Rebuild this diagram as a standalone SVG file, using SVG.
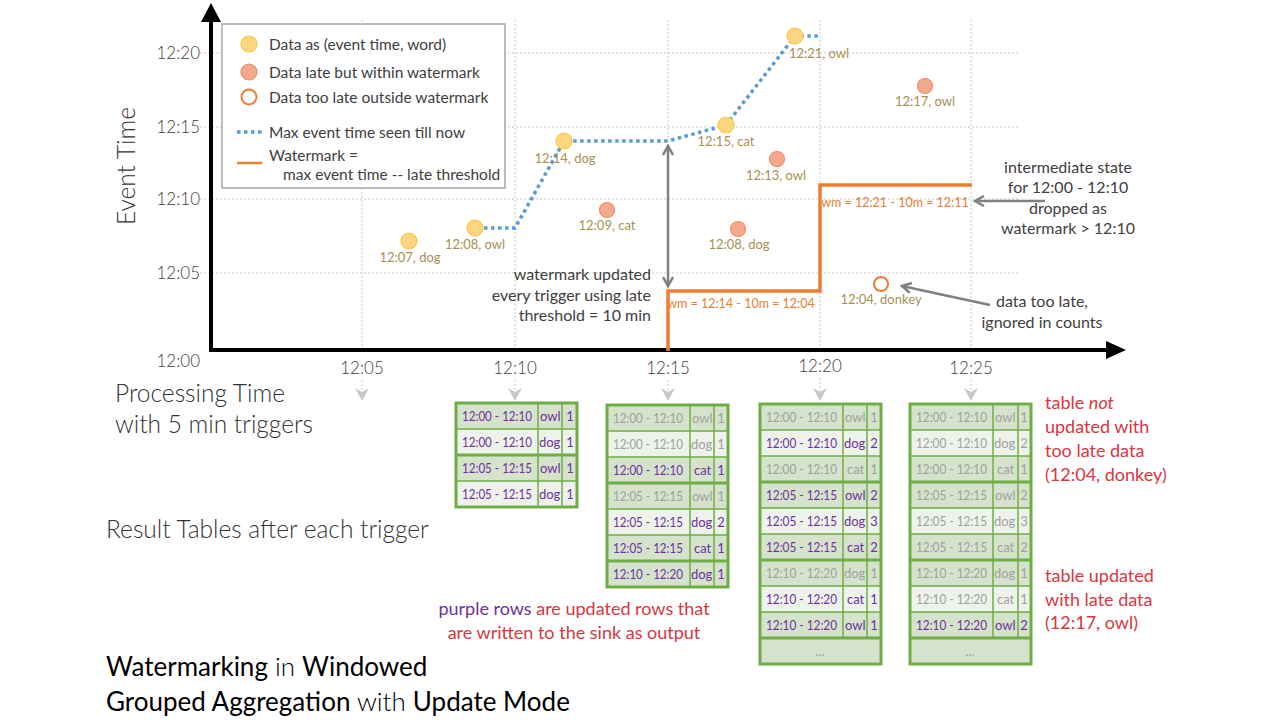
<svg xmlns="http://www.w3.org/2000/svg" width="1280" height="720" viewBox="0 0 1280 720">
<defs>
<style>
text{font-family:Lato,"Open Sans","DejaVu Sans",sans-serif;font-weight:400}
.ax{fill:#404040;font-size:17px;font-weight:300}
.leg{fill:#404040;font-size:15.5px}
.dl{fill:#a98f52;font-size:13px;text-anchor:middle}
.note{fill:#404040;font-size:16px}
.wm{fill:#ed7d31;font-size:12.5px;text-anchor:middle}
.big{fill:#333333;font-size:24.5px;font-weight:300}
.red{fill:#d9363e;font-size:18px}
.ttl{fill:#000;font-size:26px;font-weight:300}
.ttl .b{font-weight:400}
.grid{stroke:#c8c8c8;stroke-width:1;stroke-dasharray:2 2;fill:none}
.yel{fill:#fed57f;stroke:#f9c845;stroke-width:1.2}
.sal{fill:#f4a98c;stroke:#f08c66;stroke-width:1.2}
.cell-d{fill:#d5e3cc}
.cell-l{fill:#edf3ea}
.tl{stroke:#70ad47;stroke-width:1.5;fill:none}
.tt{stroke:#70ad47;stroke-width:3;fill:none}
.p{fill:#7030a0;font-size:13px}
.g{fill:#a0a0a0;font-size:13px}
.c{text-anchor:middle}
.gray{stroke:#808080;stroke-width:2.5;fill:none}
.trig{stroke:#c8c8c8;stroke-width:1;stroke-dasharray:2 2}
</style>
<marker id="chev" viewBox="0 0 12 12" refX="10" refY="6" markerWidth="12" markerHeight="12" markerUnits="userSpaceOnUse" orient="auto-start-reverse">
<path d="M1,1 L10,6 L1,11" fill="none" stroke="#808080" stroke-width="2.5"/>
</marker>
</defs>
<rect width="1280" height="720" fill="#ffffff"/>

<g id="grid">
<path class="grid" d="M362,20V350 M515,20V350 M668,20V350 M820,20V350 M971,20V350"/>
<path class="grid" d="M200,53H1018 M200,127H1018 M200,199H1018 M200,273H1018"/>
</g>

<g id="axes">
<path d="M211,352V20 M209,350H1108" stroke="#000" stroke-width="4" fill="none"/>
<polygon points="211,3 201,22 221,22" fill="#000"/>
<polygon points="1126,350 1106,341 1106,359" fill="#000"/>
<text class="ax" x="200" y="59" text-anchor="end">12:20</text>
<text class="ax" x="200" y="133" text-anchor="end">12:15</text>
<text class="ax" x="200" y="205" text-anchor="end">12:10</text>
<text class="ax" x="200" y="279" text-anchor="end">12:05</text>
<text class="ax" x="200" y="367" text-anchor="end">12:00</text>
<text class="ax" x="362" y="374" text-anchor="middle">12:05</text>
<text class="ax" x="515" y="374" text-anchor="middle">12:10</text>
<text class="ax" x="668" y="374" text-anchor="middle">12:15</text>
<text class="ax" x="820" y="372" text-anchor="middle">12:20</text>
<text class="ax" x="971" y="374" text-anchor="middle">12:25</text>
<text class="big" transform="translate(135,166) rotate(-90)" text-anchor="middle">Event Time</text>
</g>

<g id="triggers">
<path class="trig" d="M362,380V392 M515,380V392 M668,380V392 M820,378V392 M971,380V392"/>
<g fill="#c8c8c8">
<polygon points="355,388 362,401 369,388 362,392"/>
<polygon points="508,388 515,401 522,388 515,392"/>
<polygon points="661,388 668,401 675,388 668,392"/>
<polygon points="813,388 820,401 827,388 820,392"/>
<polygon points="964,388 971,401 978,388 971,392"/>
</g>
</g>

<g id="legend">
<rect x="222" y="24" width="283" height="164" fill="#fff" stroke="#a6a6a6" stroke-width="1.5"/>
<circle class="yel" cx="249" cy="44" r="8"/>
<text class="leg" x="269" y="50">Data as (event time, word)</text>
<circle class="sal" cx="249" cy="72" r="8"/>
<text class="leg" x="269" y="78">Data late but within watermark</text>
<circle cx="249" cy="97" r="7.5" fill="#fff" stroke="#ed7d31" stroke-width="2"/>
<text class="leg" x="269" y="103">Data too late outside watermark</text>
<path d="M237,132H262" stroke="#5b9bd5" stroke-width="3.5" stroke-dasharray="3.5 3.5"/>
<text class="leg" x="269" y="138">Max event time seen till now</text>
<path d="M237,163H262" stroke="#ed7d31" stroke-width="2.5"/>
<text class="leg" x="269" y="161">Watermark =</text>
<text class="leg" x="283" y="180">max event time -- late threshold</text>
</g>

<g id="connectors">
<path id="max-line" d="M484,228H515L564,141H668L726,125L795,36H820" fill="none" stroke="#5b9bd5" stroke-width="3.5" stroke-dasharray="3.5 3.5"/>
<path id="watermark-line" d="M668,351V291H820V185H972" fill="none" stroke="#ed7d31" stroke-width="3.5"/>
<path id="wm-arrow" class="gray" d="M668,146V286" marker-start="url(#chev)" marker-end="url(#chev)"/>
<path id="state-arrow" class="gray" d="M975,201H1045" marker-start="url(#chev)"/>
<path id="late-arrow" class="gray" d="M902,286L990,305" marker-start="url(#chev)"/>
</g>

<g id="p-1207-dog"><circle class="yel" cx="409" cy="241" r="8"/><text class="dl" x="410" y="262">12:07, dog</text></g>
<g id="p-1208-owl"><circle class="yel" cx="475" cy="228" r="8"/><text class="dl" x="475" y="249">12:08, owl</text></g>
<g id="p-1214-dog"><circle class="yel" cx="564" cy="141" r="8"/><text class="dl" x="565" y="163">12:14, dog</text></g>
<g id="p-1215-cat"><circle class="yel" cx="726" cy="125" r="8"/><text class="dl" x="726" y="146">12:15, cat</text></g>
<g id="p-1221-owl"><circle class="yel" cx="795" cy="36" r="8"/><text class="dl" x="819" y="58">12:21, owl</text></g>
<g id="p-1209-cat"><circle class="sal" cx="607" cy="210" r="7.5"/><text class="dl" x="607" y="230">12:09, cat</text></g>
<g id="p-1213-owl"><circle class="sal" cx="777" cy="159" r="7.5"/><text class="dl" x="776" y="180">12:13, owl</text></g>
<g id="p-1208-dog"><circle class="sal" cx="738" cy="229" r="7.5"/><text class="dl" x="739" y="249">12:08, dog</text></g>
<g id="p-1217-owl"><circle class="sal" cx="925" cy="86" r="7.5"/><text class="dl" x="925" y="106">12:17, owl</text></g>
<g id="p-1204-donkey"><circle cx="881" cy="284" r="7" fill="#fff" stroke="#ed7d31" stroke-width="2"/><text class="dl" x="881" y="304">12:04, donkey</text></g>

<g id="annotations">
<text class="wm" x="741" y="308">wm = 12:14 - 10m = 12:04</text>
<text class="wm" x="895" y="207">wm = 12:21 - 10m = 12:11</text>
<text class="note" text-anchor="end"><tspan x="651" y="280">watermark updated</tspan><tspan x="651" y="301">every trigger using late</tspan><tspan x="651" y="321">threshold = 10 min</tspan></text>
<text class="note" text-anchor="middle"><tspan x="1068" y="173">intermediate state</tspan><tspan x="1068" y="193">for 12:00 - 12:10</tspan><tspan x="1068" y="214">dropped as</tspan><tspan x="1068" y="234">watermark &gt; 12:10</tspan></text>
<text class="note" text-anchor="middle"><tspan x="1042" y="307">data too late,</tspan><tspan x="1042" y="328">ignored in counts</tspan></text>
<text class="big" x="115" y="402">Processing Time</text>
<text class="big" x="115" y="433">with 5 min triggers</text>
<text class="big" x="106" y="538">Result Tables after each trigger</text>
<text class="red"><tspan x="1045" y="409">table <tspan font-style="italic">not</tspan></tspan><tspan x="1045" y="433">updated with</tspan><tspan x="1045" y="457">too late data</tspan><tspan x="1045" y="481">(12:04, donkey)</tspan></text>
<text class="red"><tspan x="1045" y="582">table updated</tspan><tspan x="1045" y="606">with late data</tspan><tspan x="1045" y="629">(12:17, owl)</tspan></text>
<text class="red" text-anchor="middle"><tspan x="574" y="615"><tspan fill="#7030a0">purple rows</tspan> are updated rows that</tspan><tspan x="574" y="639">are written to the sink as output</tspan></text>
</g>

<g id="title">
<text class="ttl"><tspan x="106" y="676"><tspan class="b">Watermarking</tspan> in <tspan class="b">Windowed</tspan></tspan><tspan x="106" y="711"><tspan class="b">Grouped Aggregation</tspan> with <tspan class="b">Update Mode</tspan></tspan></text>
</g>

<g id="table-1215-prev">
<rect class="cell-d" x="456" y="403" width="121" height="26"/>
<rect class="cell-l" x="456" y="429" width="121" height="26"/>
<rect class="cell-d" x="456" y="455" width="121" height="26"/>
<rect class="cell-l" x="456" y="481" width="121" height="26"/>
<path class="tl" d="M456,429H577 M456,481H577 M538,403V507 M562,403V507"/>
<path class="tt" d="M456,455H577"/>
<rect class="tt" x="456" y="403" width="121" height="104"/>
<text class="p" x="462" y="421" textLength="70" lengthAdjust="spacingAndGlyphs">12:00 - 12:10</text><text class="p" x="540" y="421">owl</text><text class="p c" x="570" y="421">1</text>
<text class="p" x="462" y="447" textLength="70" lengthAdjust="spacingAndGlyphs">12:00 - 12:10</text><text class="p" x="539" y="447">dog</text><text class="p c" x="570" y="447">1</text>
<text class="p" x="462" y="473" textLength="70" lengthAdjust="spacingAndGlyphs">12:05 - 12:15</text><text class="p" x="540" y="473">owl</text><text class="p c" x="570" y="473">1</text>
<text class="p" x="462" y="499" textLength="70" lengthAdjust="spacingAndGlyphs">12:05 - 12:15</text><text class="p" x="539" y="499">dog</text><text class="p c" x="570" y="499">1</text>
</g>

<g id="table-1215">
<rect class="cell-d" x="607" y="405" width="121" height="26"/>
<rect class="cell-l" x="607" y="431" width="121" height="26"/>
<rect class="cell-d" x="607" y="457" width="121" height="26"/>
<rect class="cell-d" x="607" y="483" width="121" height="26"/>
<rect class="cell-l" x="607" y="509" width="121" height="26"/>
<rect class="cell-d" x="607" y="535" width="121" height="26"/>
<rect class="cell-d" x="607" y="561" width="121" height="26"/>
<path class="tl" d="M607,431H728 M607,457H728 M607,509H728 M607,535H728 M690,405V587 M714,405V587"/>
<path class="tt" d="M607,483H728 M607,561H728"/>
<rect class="tt" x="607" y="405" width="121" height="182"/>
<text class="g" x="613" y="423" textLength="70" lengthAdjust="spacingAndGlyphs">12:00 - 12:10</text><text class="g" x="692" y="423">owl</text><text class="g c" x="721" y="423">1</text>
<text class="g" x="613" y="449" textLength="70" lengthAdjust="spacingAndGlyphs">12:00 - 12:10</text><text class="g" x="691" y="449">dog</text><text class="g c" x="721" y="449">1</text>
<text class="p" x="613" y="475" textLength="70" lengthAdjust="spacingAndGlyphs">12:00 - 12:10</text><text class="p" x="694" y="475">cat</text><text class="p c" x="721" y="475">1</text>
<text class="g" x="613" y="501" textLength="70" lengthAdjust="spacingAndGlyphs">12:05 - 12:15</text><text class="g" x="692" y="501">owl</text><text class="g c" x="721" y="501">1</text>
<text class="p" x="613" y="527" textLength="70" lengthAdjust="spacingAndGlyphs">12:05 - 12:15</text><text class="p" x="691" y="527">dog</text><text class="p c" x="721" y="527">2</text>
<text class="p" x="613" y="553" textLength="70" lengthAdjust="spacingAndGlyphs">12:05 - 12:15</text><text class="p" x="694" y="553">cat</text><text class="p c" x="721" y="553">1</text>
<text class="p" x="613" y="579" textLength="70" lengthAdjust="spacingAndGlyphs">12:10 - 12:20</text><text class="p" x="691" y="579">dog</text><text class="p c" x="721" y="579">1</text>
</g>

<g id="table-1220">
<rect class="cell-d" x="760" y="404" width="121" height="26"/>
<rect class="cell-l" x="760" y="430" width="121" height="26"/>
<rect class="cell-d" x="760" y="456" width="121" height="26"/>
<rect class="cell-d" x="760" y="482" width="121" height="26"/>
<rect class="cell-l" x="760" y="508" width="121" height="26"/>
<rect class="cell-d" x="760" y="534" width="121" height="26"/>
<rect class="cell-d" x="760" y="560" width="121" height="26"/>
<rect class="cell-l" x="760" y="586" width="121" height="26"/>
<rect class="cell-d" x="760" y="612" width="121" height="52"/>
<path class="tl" d="M760,430H881 M760,456H881 M760,508H881 M760,534H881 M760,586H881 M760,612H881 M843,404V638 M867,404V638"/>
<path class="tt" d="M760,482H881 M760,560H881 M760,638H881"/>
<rect class="tt" x="760" y="404" width="121" height="260"/>
<text class="g" x="766" y="422" textLength="71" lengthAdjust="spacingAndGlyphs">12:00 - 12:10</text><text class="g" x="845" y="422">owl</text><text class="g c" x="874" y="422">1</text>
<text class="p" x="766" y="448" textLength="71" lengthAdjust="spacingAndGlyphs">12:00 - 12:10</text><text class="p" x="844" y="448">dog</text><text class="p c" x="874" y="448">2</text>
<text class="g" x="766" y="474" textLength="71" lengthAdjust="spacingAndGlyphs">12:00 - 12:10</text><text class="g" x="847" y="474">cat</text><text class="g c" x="874" y="474">1</text>
<text class="p" x="766" y="500" textLength="71" lengthAdjust="spacingAndGlyphs">12:05 - 12:15</text><text class="p" x="845" y="500">owl</text><text class="p c" x="874" y="500">2</text>
<text class="p" x="766" y="526" textLength="71" lengthAdjust="spacingAndGlyphs">12:05 - 12:15</text><text class="p" x="844" y="526">dog</text><text class="p c" x="874" y="526">3</text>
<text class="p" x="766" y="552" textLength="71" lengthAdjust="spacingAndGlyphs">12:05 - 12:15</text><text class="p" x="847" y="552">cat</text><text class="p c" x="874" y="552">2</text>
<text class="g" x="766" y="578" textLength="71" lengthAdjust="spacingAndGlyphs">12:10 - 12:20</text><text class="g" x="844" y="578">dog</text><text class="g c" x="874" y="578">1</text>
<text class="p" x="766" y="604" textLength="71" lengthAdjust="spacingAndGlyphs">12:10 - 12:20</text><text class="p" x="847" y="604">cat</text><text class="p c" x="874" y="604">1</text>
<text class="p" x="766" y="630" textLength="71" lengthAdjust="spacingAndGlyphs">12:10 - 12:20</text><text class="p" x="845" y="630">owl</text><text class="p c" x="874" y="630">1</text>
<text class="g c" x="820" y="656">...</text>
</g>

<g id="table-1225">
<rect class="cell-d" x="910" y="404" width="121" height="26"/>
<rect class="cell-l" x="910" y="430" width="121" height="26"/>
<rect class="cell-d" x="910" y="456" width="121" height="26"/>
<rect class="cell-d" x="910" y="482" width="121" height="26"/>
<rect class="cell-l" x="910" y="508" width="121" height="26"/>
<rect class="cell-d" x="910" y="534" width="121" height="26"/>
<rect class="cell-d" x="910" y="560" width="121" height="26"/>
<rect class="cell-l" x="910" y="586" width="121" height="26"/>
<rect class="cell-d" x="910" y="612" width="121" height="52"/>
<path class="tl" d="M910,430H1031 M910,456H1031 M910,508H1031 M910,534H1031 M910,586H1031 M910,612H1031 M993,404V638 M1018,404V638"/>
<path class="tt" d="M910,482H1031 M910,560H1031 M910,638H1031"/>
<rect class="tt" x="910" y="404" width="121" height="260"/>
<text class="g" x="916" y="422" textLength="71" lengthAdjust="spacingAndGlyphs">12:00 - 12:10</text><text class="g" x="995" y="422">owl</text><text class="g c" x="1024" y="422">1</text>
<text class="g" x="916" y="448" textLength="71" lengthAdjust="spacingAndGlyphs">12:00 - 12:10</text><text class="g" x="994" y="448">dog</text><text class="g c" x="1024" y="448">2</text>
<text class="g" x="916" y="474" textLength="71" lengthAdjust="spacingAndGlyphs">12:00 - 12:10</text><text class="g" x="997" y="474">cat</text><text class="g c" x="1024" y="474">1</text>
<text class="g" x="916" y="500" textLength="71" lengthAdjust="spacingAndGlyphs">12:05 - 12:15</text><text class="g" x="995" y="500">owl</text><text class="g c" x="1024" y="500">2</text>
<text class="g" x="916" y="526" textLength="71" lengthAdjust="spacingAndGlyphs">12:05 - 12:15</text><text class="g" x="994" y="526">dog</text><text class="g c" x="1024" y="526">3</text>
<text class="g" x="916" y="552" textLength="71" lengthAdjust="spacingAndGlyphs">12:05 - 12:15</text><text class="g" x="997" y="552">cat</text><text class="g c" x="1024" y="552">2</text>
<text class="g" x="916" y="578" textLength="71" lengthAdjust="spacingAndGlyphs">12:10 - 12:20</text><text class="g" x="994" y="578">dog</text><text class="g c" x="1024" y="578">1</text>
<text class="g" x="916" y="604" textLength="71" lengthAdjust="spacingAndGlyphs">12:10 - 12:20</text><text class="g" x="997" y="604">cat</text><text class="g c" x="1024" y="604">1</text>
<text class="p" x="916" y="630" textLength="71" lengthAdjust="spacingAndGlyphs">12:10 - 12:20</text><text class="p" x="995" y="630">owl</text><text class="p c" x="1024" y="630">2</text>
<text class="g c" x="970" y="656">...</text>
</g>
</svg>
